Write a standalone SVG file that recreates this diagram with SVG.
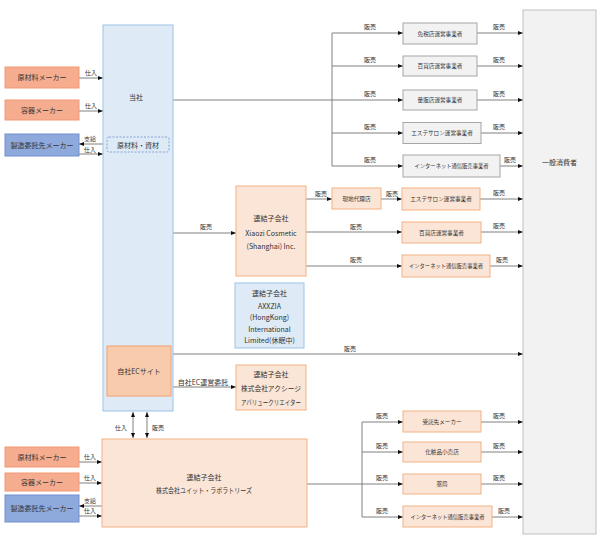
<svg xmlns="http://www.w3.org/2000/svg" width="608" height="540" viewBox="0 0 608 540">
<defs>
<marker id="ah" viewBox="0 0 5 4" markerWidth="5" markerHeight="4" refX="5" refY="2" orient="auto-start-reverse" markerUnits="userSpaceOnUse"><path d="M0,0 L5,2 L0,4 z" fill="#111"/></marker>
<style>
.t{font-family:"Noto Sans CJK JP","Noto Sans",sans-serif;fill:#333;text-anchor:middle;font-size:7px}
.s{font-size:5.6px}
.l{font-size:6px}
.ln{stroke:#808080;stroke-width:1;fill:none}
.a{marker-end:url(#ah)}
.sup{fill:#F6AC8F;stroke:#F19A74;stroke-width:1}
.blu{fill:#8EA9DB;stroke:#6F8FCF;stroke-width:1}
.ltb{fill:#DEEAF6;stroke:#9DC3E6;stroke-width:1}
.pch{fill:#FBE5D6;stroke:#F4B183;stroke-width:1}
.ecb{fill:#F8CBAD;stroke:#F4A06E;stroke-width:1}
.gry{fill:#F2F2F2;stroke:#A6A6A6;stroke-width:1}
</style>
</defs>
<rect width="608" height="540" fill="#fff"/>

<!-- connectors -->
<g id="connectors">
<line class="ln a" x1="79" y1="78" x2="103" y2="78"/>
<line class="ln a" x1="79" y1="111" x2="103" y2="111"/>
<line class="ln a" x1="107" y1="144" x2="79" y2="144"/>
<line class="ln a" x1="79" y1="154" x2="103" y2="154"/>
<polyline class="ln" points="173,100 332,100"/>
<line class="ln" x1="332" y1="33" x2="332" y2="166"/>
<line class="ln a" x1="332" y1="33" x2="403" y2="33"/>
<line class="ln a" x1="332" y1="66" x2="403" y2="66"/>
<line class="ln a" x1="332" y1="100" x2="403" y2="100"/>
<line class="ln a" x1="332" y1="133" x2="403" y2="133"/>
<line class="ln a" x1="332" y1="166" x2="403" y2="166"/>
<line class="ln a" x1="477" y1="33" x2="523" y2="33"/>
<line class="ln a" x1="477" y1="66" x2="523" y2="66"/>
<line class="ln a" x1="477" y1="100" x2="523" y2="100"/>
<line class="ln a" x1="481" y1="133" x2="523" y2="133"/>
<line class="ln a" x1="500" y1="166" x2="523" y2="166"/>
<line class="ln a" x1="173" y1="233" x2="236" y2="233"/>
<line class="ln a" x1="306" y1="199" x2="332" y2="199"/>
<line class="ln a" x1="381" y1="199" x2="402" y2="199"/>
<line class="ln a" x1="306" y1="232" x2="402" y2="232"/>
<line class="ln a" x1="306" y1="266" x2="402" y2="266"/>
<line class="ln a" x1="480" y1="199" x2="523" y2="199"/>
<line class="ln a" x1="481" y1="232" x2="523" y2="232"/>
<line class="ln a" x1="490" y1="266" x2="523" y2="266"/>
<line class="ln a" x1="171" y1="354" x2="523" y2="354"/>
<line class="ln a" x1="171" y1="387" x2="236" y2="387"/>
<line class="ln a" x1="133" y1="412" x2="133" y2="438" marker-start="url(#ah)"/>
<line class="ln a" x1="147" y1="412" x2="147" y2="438" marker-start="url(#ah)"/>
<line class="ln a" x1="79" y1="462" x2="102" y2="462"/>
<line class="ln a" x1="79" y1="483" x2="102" y2="483"/>
<line class="ln a" x1="102" y1="506" x2="79" y2="506"/>
<line class="ln a" x1="79" y1="516" x2="102" y2="516"/>
<line class="ln" x1="307" y1="484" x2="362" y2="484"/>
<line class="ln" x1="362" y1="422" x2="362" y2="517"/>
<line class="ln a" x1="362" y1="422" x2="403" y2="422"/>
<line class="ln a" x1="362" y1="452" x2="403" y2="452"/>
<line class="ln a" x1="362" y1="484" x2="403" y2="484"/>
<line class="ln a" x1="362" y1="517" x2="403" y2="517"/>
<line class="ln a" x1="481" y1="422" x2="523" y2="422"/>
<line class="ln a" x1="481" y1="452" x2="523" y2="452"/>
<line class="ln a" x1="481" y1="484" x2="523" y2="484"/>
<line class="ln a" x1="492" y1="517" x2="523" y2="517"/>
</g>

<g id="labels">
<text class="t l" x="91" y="75">仕入</text>
<text class="t l" x="91" y="108">仕入</text>
<text class="t l" x="90" y="141">支給</text>
<text class="t l" x="90" y="151.5">仕入</text>
<text class="t l" x="370" y="29">販売</text>
<text class="t l" x="370" y="62">販売</text>
<text class="t l" x="370" y="96">販売</text>
<text class="t l" x="370" y="129">販売</text>
<text class="t l" x="370" y="162">販売</text>
<text class="t l" x="499" y="29">販売</text>
<text class="t l" x="499" y="62">販売</text>
<text class="t l" x="499" y="96">販売</text>
<text class="t l" x="499" y="129">販売</text>
<text class="t l" x="510" y="162">販売</text>
<text class="t l" x="206" y="229">販売</text>
<text class="t l" x="321" y="196">販売</text>
<text class="t l" x="392" y="196">販売</text>
<text class="t l" x="356" y="229">販売</text>
<text class="t l" x="356" y="262">販売</text>
<text class="t l" x="499" y="195">販売</text>
<text class="t l" x="499" y="228">販売</text>
<text class="t l" x="502" y="262">販売</text>
<text class="t l" x="350" y="351">販売</text>
<text class="t" x="203" y="384.5">自社EC運営委託</text>
<text class="t l" x="121" y="430">仕入</text>
<text class="t l" x="158" y="430">販売</text>
<text class="t l" x="90" y="458.5">仕入</text>
<text class="t l" x="90" y="480">仕入</text>
<text class="t l" x="90" y="503">支給</text>
<text class="t l" x="90" y="513">仕入</text>
<text class="t l" x="382" y="418">販売</text>
<text class="t l" x="382" y="448">販売</text>
<text class="t l" x="382" y="480">販売</text>
<text class="t l" x="382" y="513">販売</text>
<text class="t l" x="499" y="418">販売</text>
<text class="t l" x="499" y="448">販売</text>
<text class="t l" x="499" y="480">販売</text>
<text class="t l" x="504" y="513">販売</text>
</g>

<g id="n-genzairyo1"><rect class="sup" x="5" y="67" width="74" height="21"/><text class="t" x="42" y="80">原材料メーカー</text></g>
<g id="n-youki1"><rect class="sup" x="5" y="100" width="74" height="20"/><text class="t" x="42" y="112.5">容器メーカー</text></g>
<g id="n-seizou1"><rect class="blu" x="5" y="134" width="74" height="22"/><text class="t" x="42" y="147.5" font-size="6.8">製造委託先メーカー</text></g>

<g id="n-tousha"><rect class="ltb" x="103" y="25" width="70" height="386"/><text class="t" x="136" y="100" font-size="7.5">当社</text>
<rect x="107" y="137" width="62" height="15" rx="2" fill="#DEEAF6" stroke="#6F8FCF" stroke-width="0.8" stroke-dasharray="2,1.5"/><text class="t" x="138" y="147.5">原材料・資材</text></g>
<g id="n-ec"><rect class="ecb" x="107" y="346" width="64" height="50"/><text class="t" x="139" y="373.5">自社ECサイト</text></g>

<g id="n-menzei"><rect class="gry" x="403" y="23" width="74" height="21"/><text class="t s" x="440" y="35.5">免税店運営事業者</text></g>
<g id="n-hyakka1"><rect class="gry" x="403" y="56" width="74" height="20"/><text class="t s" x="440" y="68">百貨店運営事業者</text></g>
<g id="n-ryouhan"><rect class="gry" x="403" y="90" width="74" height="20"/><text class="t s" x="440" y="102">量販店運営事業者</text></g>
<g id="n-esthe1"><rect class="gry" x="403" y="122.5" width="78" height="21"/><text class="t s" x="442" y="135">エステサロン運営事業者</text></g>
<g id="n-internet1"><rect class="gry" x="403" y="155" width="97" height="22"/><text class="t s" x="451.5" y="168" textLength="74" lengthAdjust="spacingAndGlyphs">インターネット通信販売事業者</text></g>

<g id="n-consumer"><rect x="523" y="10" width="73" height="524" fill="#F2F2F2" stroke="#BFBFBF" stroke-width="1"/><text class="t" x="559.5" y="165" font-size="7.8">一般消費者</text></g>

<g id="n-xiaozi"><rect class="pch" x="236" y="186" width="70" height="90"/>
<text class="t" x="271" y="221" font-size="7.5">連結子会社</text>
<text class="t" x="271" y="235.5" font-size="7.5">Xiaozi Cosmetic</text>
<text class="t" x="271" y="248.5" font-size="7.5">(Shanghai) Inc.</text></g>
<g id="n-genchi"><rect class="pch" x="332" y="188" width="49" height="21"/><text class="t s" x="356.5" y="200.5">現地代理店</text></g>
<g id="n-esthe2"><rect class="pch" x="402" y="188" width="78" height="22"/><text class="t s" x="441" y="201">エステサロン運営事業者</text></g>
<g id="n-hyakka2"><rect class="pch" x="402" y="222" width="79" height="21"/><text class="t s" x="441.5" y="234.5">百貨店運営事業者</text></g>
<g id="n-internet2"><rect class="pch" x="402" y="255" width="88" height="22"/><text class="t s" x="446" y="268" textLength="74" lengthAdjust="spacingAndGlyphs">インターネット通信販売事業者</text></g>

<g id="n-axxzia"><rect class="ltb" x="235" y="283" width="69" height="65"/>
<text class="t" x="269.5" y="296" font-size="7.2">連結子会社</text>
<text class="t" x="269.5" y="308.5" font-size="7">AXXZIA</text>
<text class="t" x="269.5" y="320" font-size="7">(HongKong)</text>
<text class="t" x="269.5" y="331.5" font-size="7">International</text>
<text class="t" x="269.5" y="343" font-size="7">Limited(休眠中)</text></g>

<g id="n-axxzia-vc"><rect class="pch" x="236" y="365" width="70" height="45"/>
<text class="t" x="271" y="376.5">連結子会社</text>
<text class="t" x="271" y="390.5" font-size="6.6" textLength="60" lengthAdjust="spacingAndGlyphs">株式会社アクシージ</text>
<text class="t" x="271" y="404.5" font-size="5.8" textLength="60" lengthAdjust="spacingAndGlyphs">アバリュークリエイター</text></g>

<g id="n-genzairyo2"><rect class="sup" x="5" y="447" width="74" height="20"/><text class="t" x="42" y="459.5">原材料メーカー</text></g>
<g id="n-youki2"><rect class="sup" x="5" y="473" width="74" height="18"/><text class="t" x="42" y="484.5">容器メーカー</text></g>
<g id="n-seizou2"><rect class="blu" x="5" y="495" width="74" height="27"/><text class="t" x="42" y="511" font-size="6.8">製造委託先メーカー</text></g>

<g id="n-uit"><rect class="pch" x="102" y="439" width="205" height="88"/>
<text class="t" x="204" y="479.5" font-size="7.5">連結子会社</text>
<text class="t" x="204" y="492.5" font-size="6.2" textLength="96" lengthAdjust="spacingAndGlyphs">株式会社ユイット・ラボラトリーズ</text></g>

<g id="n-jutaku"><rect class="pch" x="403" y="411" width="78" height="21"/><text class="t s" x="442" y="423.5">受託先メーカー</text></g>
<g id="n-keshouhin"><rect class="pch" x="403" y="442" width="78" height="20"/><text class="t s" x="442" y="454">化粧品小売店</text></g>
<g id="n-yakkyoku"><rect class="pch" x="403" y="474" width="78" height="20"/><text class="t s" x="442" y="486">薬局</text></g>
<g id="n-internet3"><rect class="pch" x="403" y="506" width="89" height="21"/><text class="t s" x="447.5" y="518.5" textLength="74" lengthAdjust="spacingAndGlyphs">インターネット通信販売事業者</text></g>
</svg>
